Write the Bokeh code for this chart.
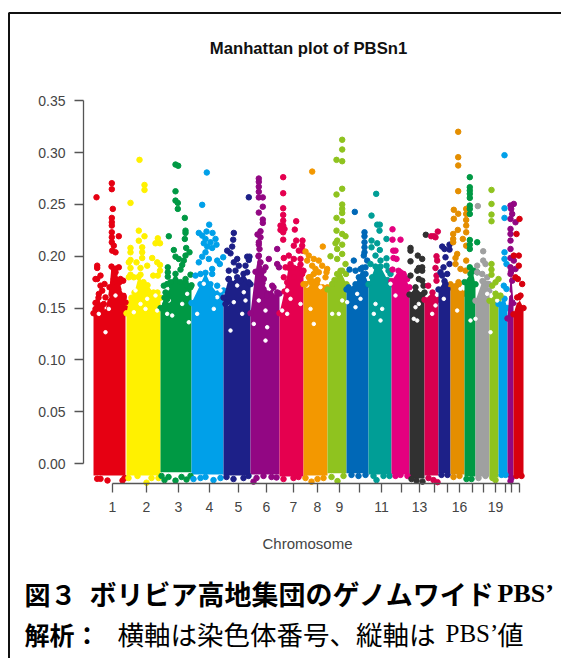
from bokeh.plotting import figure
from bokeh.models import LinearAxis, FixedTicker, Label, Range1d
from bokeh.embed import file_html
from bokeh.resources import INLINE

chrom_names = list(range(1, 23))
chrom_ticks = [19, 53, 85, 116, 145, 173, 200, 224, 246, 266, 288, 308, 326, 341, 354, 366, 379, 390, 402, 412, 418, 426]
tick_labels = ["1", "2", "3", "4", "5", "6", "7", "8", "9", "", "11", "", "13", "", "", "16", "", "", "19", "", "", ""]
chrom_colors = ["#E60012", "#FFF100", "#009944", "#00A0E9", "#1D2088", "#920783", "#E5004F", "#F39800", "#8FC31F", "#0068B7", "#009E96",
                "#E4007F", "#313131", "#D7004F", "#1D2088", "#E48E00", "#009944", "#9FA0A0", "#8FC31F", "#00A0E9", "#920783", "#D7000F"]
body_bottom = [-.0115, -.0115, -.0085, -.0105, -.0115, -.0105, -.0125, -.0115, -.0095, -.0095, -.0105, -.0105, -.0145, -.0115, -.0095, -.0105, -.0125, -.0125, -.0135, -.0095, -.0135, -.0105]

# upper edge of the solid mass of points, chromosome by chromosome
body_tops = [
    [(0, .145), (2, .155), (5, .16), (8, .15), (12, .146), (16, .17), (18, .19), (22, .188), (26, .175), (30, .162), (32, .15)],
    [(33, .145), (35, .155), (38, .16), (41, .165), (45, .18), (50, .175), (54, .172), (60, .165), (64, .165), (67, .16)],
    [(67, .15), (71, .16), (77, .175), (82, .183), (87, .175), (92, .175), (98, .172)],
    [(98, .155), (107, .173), (112, .184), (117, .173), (124, .164), (130, .167)],
    [(130, .16), (135, .178), (143, .175), (150, .183), (157, .173)],
    [(157, .145), (162, .185), (165, .2), (170, .186), (174, .164), (180, .17), (186, .164)],
    [(186, .145), (191, .166), (195, .189), (200, .189), (207, .192), (210, .186)],
    [(210, .173), (217, .18), (224, .177), (229, .17), (234, .17)],
    [(234, .168), (241, .177), (247, .186), (253, .173)],
    [(253, .168), (262, .173), (269, .189), (275, .173)],
    [(275, .173), (282, .19), (287, .19), (294, .177), (298, .173)],
    [(298, .176), (305, .186), (310, .183), (316, .17)],
    [(316, .163), (322, .17), (329, .163), (331, .165)],
    [(331, .158), (339, .165), (345, .158)],
    [(345, .168), (351, .176), (357, .17)],
    [(357, .173), (365, .175), (371, .164)],
    [(371, .175), (379, .186), (382, .173)],
    [(382, .157), (389, .176), (394, .173), (396, .167)],
    [(396, .157), (402, .164), (405, .158)],
    [(405, .154), (411, .159), (414, .15)],
    [(414, .14), (417.5, .185), (420, .155)],
    [(420, .144), (425, .16), (430, .15)],
]

chr1 = [(3, .2569), (18.3, .2705), (18.3, .2647), (19.3, .2457), (18.3, .237), (18.3, .2328), (18.3, .2296), (25.3, .2193), (18.3, .2231), (18.3, .2183), (18.3, .2135), (20.3, .2102), (18.7, .2054), (22, .2038), (3.7, .1909), (3.7, .1887), (25.3, .1893), (20.3, .1877), (22, .1845), (3.7, .178), (7, .1813), (2, .178), (27, .178), (29.7, .1764), (20.3, .178), (7, .1716), (11, .1732), (8.7, .1668), (5.3, .1636), (23.7, .1716), (12, .1603), (3.7, .1555), (7, .1523), (2, .1491), (10.3, .1539), (30.3, .1603), (32, .1555), (3.7, -.0148), (7, -.0148), (14, -.0164), (29, -.0164), (31, -.014)]
chr2 = [(46, .293), (51, .2688), (51, .264), (37, .2515), (45.3, .2247), (51, .2193), (64.3, .2173), (62, .2125), (66.5, .2125), (45.3, .215), (48.7, .2086), (37, .208), (37, .2038), (48.7, .2038), (37, .1964), (35.3, .1941), (43, .1941), (48.7, .1983), (58.7, .1983), (63.7, .1941), (66.5, .1916), (53.7, .1909), (37, .1887), (47, .1887), (66.5, .1861), (37, .1822), (47, .1822), (59.7, .1813), (64.3, .1813), (35.3, .1797), (40.3, .1797), (35, -.014), (53, -.0185), (58, -.014), (44, -.012), (65, -.014)]
chr3 = [(82, .2885), (84.7, .2873), (82, .2627), (82, .2537), (84.3, .2515), (84.3, .2457), (91.3, .237), (92, .2247), (92, .2225), (91.3, .2167), (75.3, .2193), (92.7, .208), (80.3, .206), (96, .2038), (82, .1996), (85.3, .1974), (92, .2006), (90.3, .1958), (88.7, .1916), (74.3, .1893), (74.3, .1845), (87, .1871), (74.3, .1803), (92, .178), (97, .1822), (70.3, .1716), (73.7, .1732), (93.7, .1716), (97, .17), (72, .1651), (73.7, .1587), (72, .1539), (68, -.012), (71, -.016), (75, -.013), (82, -.0165), (88, -.013), (93, -.0155), (97, -.012)]
chr4 = [(113.3, .2808), (108.7, .2496), (115.7, .2305), (105.3, .2225), (113, .2238), (119, .2225), (108.7, .2199), (112, .2167), (122, .2167), (110.3, .2125), (117, .2135), (123, .2112), (113.7, .2093), (118.7, .208), (112, .2038), (108.7, .1996), (129.7, .199), (115.3, .1974), (123.7, .1958), (105.3, .1941), (126.3, .1925), (118.7, .1877), (118.7, .1829), (102, .1813), (107, .1829), (123.7, .1716), (118.7, .1603), (100, -.015), (107, -.014), (112, -.013), (120, -.016), (127, -.014)]
chr5 = [(155.3, .2569), (140.3, .2225), (139.7, .216), (138.7, .2093), (133.7, .2054), (137, .2028), (143.7, .1974), (153.7, .1996), (156, .1996), (155.3, .1964), (140.3, .1941), (145.3, .1909), (152, .1909), (153.7, .1845), (135.3, .1861), (142, .1861), (143.7, .1797), (135.3, .178), (147, .1764), (155.3, .1748), (133.7, .1555), (132, .1539), (137, .1700), (133, -.013), (140, -.015), (150, -.014), (155, -.012)]
chr6 = [(165.3, .275), (165.3, .2718), (165.3, .2671), (165.3, .2622), (165.3, .2568), (169.3, .2568), (169.3, .2478), (165.3, .2421), (169.3, .2354), (169.3, .2322), (167, .2241), (164, .221), (165.3, .2113), (167, .2183), (165.3, .2135), (166, .207), (165.3, .2006), (167, .1941), (175.3, .1974), (172, .1893), (183.7, .207), (183.7, .1925), (185.5, .1893), (170.3, .178), (178.7, .1716), (183.7, .1651), (173.7, .162), (160, -.0175), (163, -.014), (170, -.012), (178, -.013), (183, -.0135)]
chr7 = [(189.7, .2763), (189.7, .2608), (189.7, .2463), (189.7, .2399), (189.7, .2344), (202.7, .2338), (189.7, .2296), (187, .2296), (187, .2254), (191, .2263), (201.3, .2257), (189.7, .2231), (189.7, .216), (202.7, .2151), (209, .2151), (200.3, .2102), (208.7, .2102), (205.3, .2054), (209, .2054), (195.3, .2006), (190.3, .1983), (200.3, .1974), (207, .1974), (197, .1925), (192, .1893), (203.7, .1877), (190.3, .1797), (200.3, .1797), (208.7, .1829), (209, .1861), (193.7, .1748), (190, -.015), (200, -.014), (205, -.013)]
chr8 = [(218.7, .2817), (229.3, .2093), (212, .2045), (215.3, .2006), (220.3, .1974), (213.7, .1958), (225.3, .1958), (218.7, .1909), (228.7, .1909), (222, .1877), (233.7, .1877), (225.3, .1845), (220.3, .1829), (215.3, .1797), (232, .1797), (233, .1845), (223.7, .1764), (212, .1732), (212, -.014), (218, -.0175), (224, -.015), (230, -.014)]
chr9 = [(248.7, .3124), (248.7, .303), (243, .293), (248.7, .2917), (248.7, .2651), (243, .2596), (248.7, .2499), (248.7, .2457), (248.7, .2418), (243, .237), (248.7, .2338), (243, .2247), (248.7, .2215), (252, .2193), (243.7, .2151), (242, .2125), (248.7, .2112), (243.7, .207), (248.7, .2022), (237, .2), (252, .1925), (243.7, .1974), (248.7, .1861), (243.7, .1829), (238.7, .1732), (252.5, .1829), (238, -.013), (244, -.017), (250, -.012)]
chr10 = [(261.3, .2428), (271, .2231), (271, .2193), (271, .2135), (271, .2086), (271, .2038), (260.3, .1958), (270.3, .2006), (273.7, .1958), (256, .1871), (267, .1877), (262, .1861), (272, .1893), (265.3, .1797), (272, .1829), (268.7, .1748), (255, .1700), (258, -.011), (265, -.012), (272, -.011)]
chr11 = [(282.7, .2602), (278, .2392), (283.7, .2305), (286.3, .2305), (286, .2247), (293, .2167), (278, .2151), (283.7, .2125), (278, .2086), (286.3, .206), (282, .2006), (293, .198), (287, .1958), (277, .1925), (293, .1909), (295, .1861), (283.7, .1861), (297, .1829), (288.7, .1797), (278.7, .1797), (280, -.012), (283, -.016), (290, -.012), (296, -.012)]
chr12 = [(299, .226), (299, .216), (307, .216), (299.7, .2054), (302, .2054), (300, .1983), (303, .1974), (299, .1871), (307, .1845), (313.7, .178), (310.3, .1813), (302, -.012), (307, -.011), (314, -.012)]
chr13 = [(332.3, .2207), (317, .208), (317, .2054), (324.3, .2006), (328.7, .1974), (317, .1951), (325.3, .1887), (328.7, .1893), (323.7, .1861), (328.7, .1861), (317, .1813), (325.3, .178), (328.7, .1764), (330, .1716), (318, -.015), (323, -.0165), (329, -.0175)]
chr14 = [(340.3, .2193), (337.7, .2193), (344.3, .2238), (342, .2183), (343, .2), (343.7, .1958), (342, .1887), (343, .1813), (343, .1764), (334.7, .1716), (335, -.014), (340, -.016), (344, -.018)]
chr15 = [(348.7, .2093), (351, .207), (356, .2112), (356, .2064), (352, .199), (356, .1925), (350, .1893), (347, .1845), (353.7, .1829), (348.7, .1813), (352, .1732), (348, -.011), (354, -.011)]
chr16 = [(364.7, .3201), (364.7, .2956), (364.7, .2876), (364.7, .2628), (360.3, .2448), (364.7, .241), (360.3, .2361), (372.7, .2457), (372.7, .2408), (372.7, .235), (372.7, .2296), (364.3, .2254), (372.7, .2231), (359.7, .2215), (359.7, .2167), (369.3, .2167), (359.7, .2135), (372.7, .2102), (363.7, .2022), (362, .1983), (372.7, .1958), (367, .1877), (362, .1925), (372, .1861), (365.3, .1732), (360, -.013), (366, -.012)]
chr17 = [(376.3, .2763), (376.3, .2666), (376.3, .2634), (376.3, .2602), (376.3, .2563), (376.3, .2489), (376.3, .2457), (376.3, .2408), (376.3, .2157), (376.3, .2112), (383.7, .2135), (376.3, .207), (376.3, .1893), (380.3, .1861), (377, .1829), (383.7, .1845), (375.3, .1748), (373, -.015), (378, -.015)]
chr18 = [(384.3, .2484), (389.7, .2048), (389.7, .1958), (383.7, .1909), (392, .1925), (383.7, .1845), (388.7, .1829), (393.7, .1797), (390.3, .1748), (395.3, .1732), (385, -.014), (392, -.012)]
chr19 = [(398, .264), (398, .2505), (398, .2402), (398, .2338), (398, .1925), (398, .1871), (398, .1822), (405, .178), (402, .1748), (398.7, .1716), (403.7, .162), (407, .162), (399, -.014), (402, -.016)]
chr20 = [(411, .2975), (411, .2463), (411, .237), (411, .2038), (411, .1974), (413, .1925), (410.3, .1716), (413, .1684), (408, -.011), (412, -.011)]
chr21 = [(420.3, .2505), (417, .2489), (417.7, .2457), (418.7, .2408), (417, .236), (417, .2263), (417, .2215), (417, .2151), (417, .207), (417, .1983), (420.3, .1958), (417, .1893), (422, .1877), (417, .1829), (418.7, .1764), (422, .2328), (417, -.017), (418, -.014)]
chr22 = [(426, .236), (423, .2215), (425.3, .2006), (420.3, .2006), (425.3, .1909), (422, .1797), (424.3, .178), (428.7, .1732), (427, .162), (423.7, .1603), (423, -.012), (428, -.012)]
chrom_points = [chr1, chr2, chr3, chr4, chr5, chr6, chr7, chr8, chr9, chr10, chr11, chr12, chr13, chr14, chr15, chr16, chr17, chr18, chr19, chr20, chr21, chr22]

# places where the cloud of points leaves the paper showing through
gaps = [(7, .1686), (13.7, .1605), (22, .1621), (5.3, .1444), (12, .1267), (15.3, .1492), (30.3, .167),
        (42, .167), (53.7, .1589), (62, .1621), (47, .154), (40.3, .146), (52, .1492), (63.7, .1476),
        (73.7, .1686), (75.3, .1573), (78.7, .1428), (95.3, .1363), (88.7, .154), (93.7, .1637), (73.7, .1444),
        (110.3, .1734), (123.7, .1605), (120.3, .1492), (133.7, .154), (103.7, .1444), (122, .1718), (127, .167),
        (143.7, .1718), (150.3, .1653), (148.7, .1444), (160.3, .1347), (140.3, .1557), (152, .1573), (137, .1283),
        (173.7, .1718), (182, .1653), (172, .1476), (173.7, .1315), (172, .1186), (193.7, .167), (165.3, .1573),
        (188.7, .1476), (197, .1589), (207, .154), (193.7, .1444),
        (213.7, .1718), (217, .1492), (227, .1702), (220.3, .1347), (248.7, .1573), (245.3, .1444), (238.7, .1444),
        (253.7, .1557), (262, .1508), (267, .1589), (263.7, .1637), (280.3, .1444), (288.7, .1492), (287, .138),
        (282, .154), (297, .1734), (302, .1621), (322, .1508), (320.3, .1396), (323.7, .138), (325.3, .154),
        (338.7, .1444), (342, .1525), (350.3, .1589), (363.7, .1476), (367, .1686), (377, .138), (382, .1396),
        (397, .1267), (393.7, .1637), (400.3, .1686), (403.7, .1573), (415.3, .1637), (423.7, .1573)]

y_ticks = [0.0, 0.05, 0.10, 0.15, 0.20, 0.25, 0.30, 0.35]

W, H = 561, 658
def X(px):
    return px - 93
def Y(py):
    return (463 - py) * 0.000965

p = figure(width=W, height=H, output_backend="svg", toolbar_location=None, min_border=0,
           x_range=Range1d(X(0), X(W)), y_range=Range1d(Y(H), Y(0)),
           x_axis_location=None, y_axis_location=None)
p.grid.visible = False
p.outline_line_color = None
p.background_fill_color = "white"

for i, name in enumerate(chrom_names):
    c = chrom_colors[i]
    xs = [a for a, _ in body_tops[i]]
    tops = [b for _, b in body_tops[i]]
    p.varea(x=xs, y1=[body_bottom[i]] * len(xs), y2=tops, fill_color=c)
    p.scatter(xs, tops, size=5.5, color=c)
p.scatter([a for a, _ in gaps], [b for _, b in gaps], size=3.5, color="white")
for i, name in enumerate(chrom_names):
    p.scatter([a for a, _ in chrom_points[i]], [b for _, b in chrom_points[i]], size=5.5, color=chrom_colors[i], marker="circle")

INK = "#444444"
ya = LinearAxis(fixed_location=X(83), ticker=FixedTicker(ticks=y_ticks), bounds=(0, .35))
ya.major_label_overrides = {t: f"{t:.2f}" for t in y_ticks}
xa = LinearAxis(fixed_location=Y(483), ticker=FixedTicker(ticks=chrom_ticks), bounds=(chrom_ticks[0], chrom_ticks[-1]))
xa.major_label_overrides = dict(zip(chrom_ticks, tick_labels))
for ax in (ya, xa):
    ax.axis_line_color = "#555555"
    ax.axis_line_width = 1.3
    ax.major_tick_line_color = "#555555"
    ax.major_tick_line_width = 1.3
    ax.major_tick_out = 9
    ax.major_tick_in = 0
    ax.minor_tick_line_color = None
    ax.major_label_text_color = INK
    ax.major_label_text_font = "Liberation Sans"
    ax.major_label_text_font_size = "14px"
    ax.major_label_standoff = 9
p.add_layout(ya, "left")
p.add_layout(xa, "below")

def put(txt, px, py, size, font, style="normal", color="black", align="left"):
    p.add_layout(Label(x=X(px), y=Y(py), text=txt, text_font=font, text_font_size=f"{size}px",
                       text_font_style=style, text_color=color, text_align=align, text_baseline="middle"))

put("Manhattan plot of PBSn1", 308, 48, 16.7, "Liberation Sans", "bold", "#111111", "center")
put("Chromosome", 307, 543, 15, "Liberation Sans", "normal", INK, "center")
CJK = "Noto Sans CJK JP"
put("図３", 24, 593, 26, CJK, "bold")
put("ボリビア高地集団のゲノムワイド", 89, 593, 27, CJK, "bold")
put("PBS’", 497, 593, 26, "Liberation Serif", "bold")
put("解析：", 24, 633, 25, CJK, "bold")
put("横軸は染色体番号、縦軸は", 117, 633, 26.5, CJK)
put("PBS’", 445, 633, 25, "Liberation Serif")
put("値", 497, 633, 26, CJK)

p.line([X(8.5), X(8.5), X(W)], [Y(H), Y(12.5), Y(12.5)], line_color="#111111", line_width=2)

open("out.html", "w").write(file_html(p, INLINE))
